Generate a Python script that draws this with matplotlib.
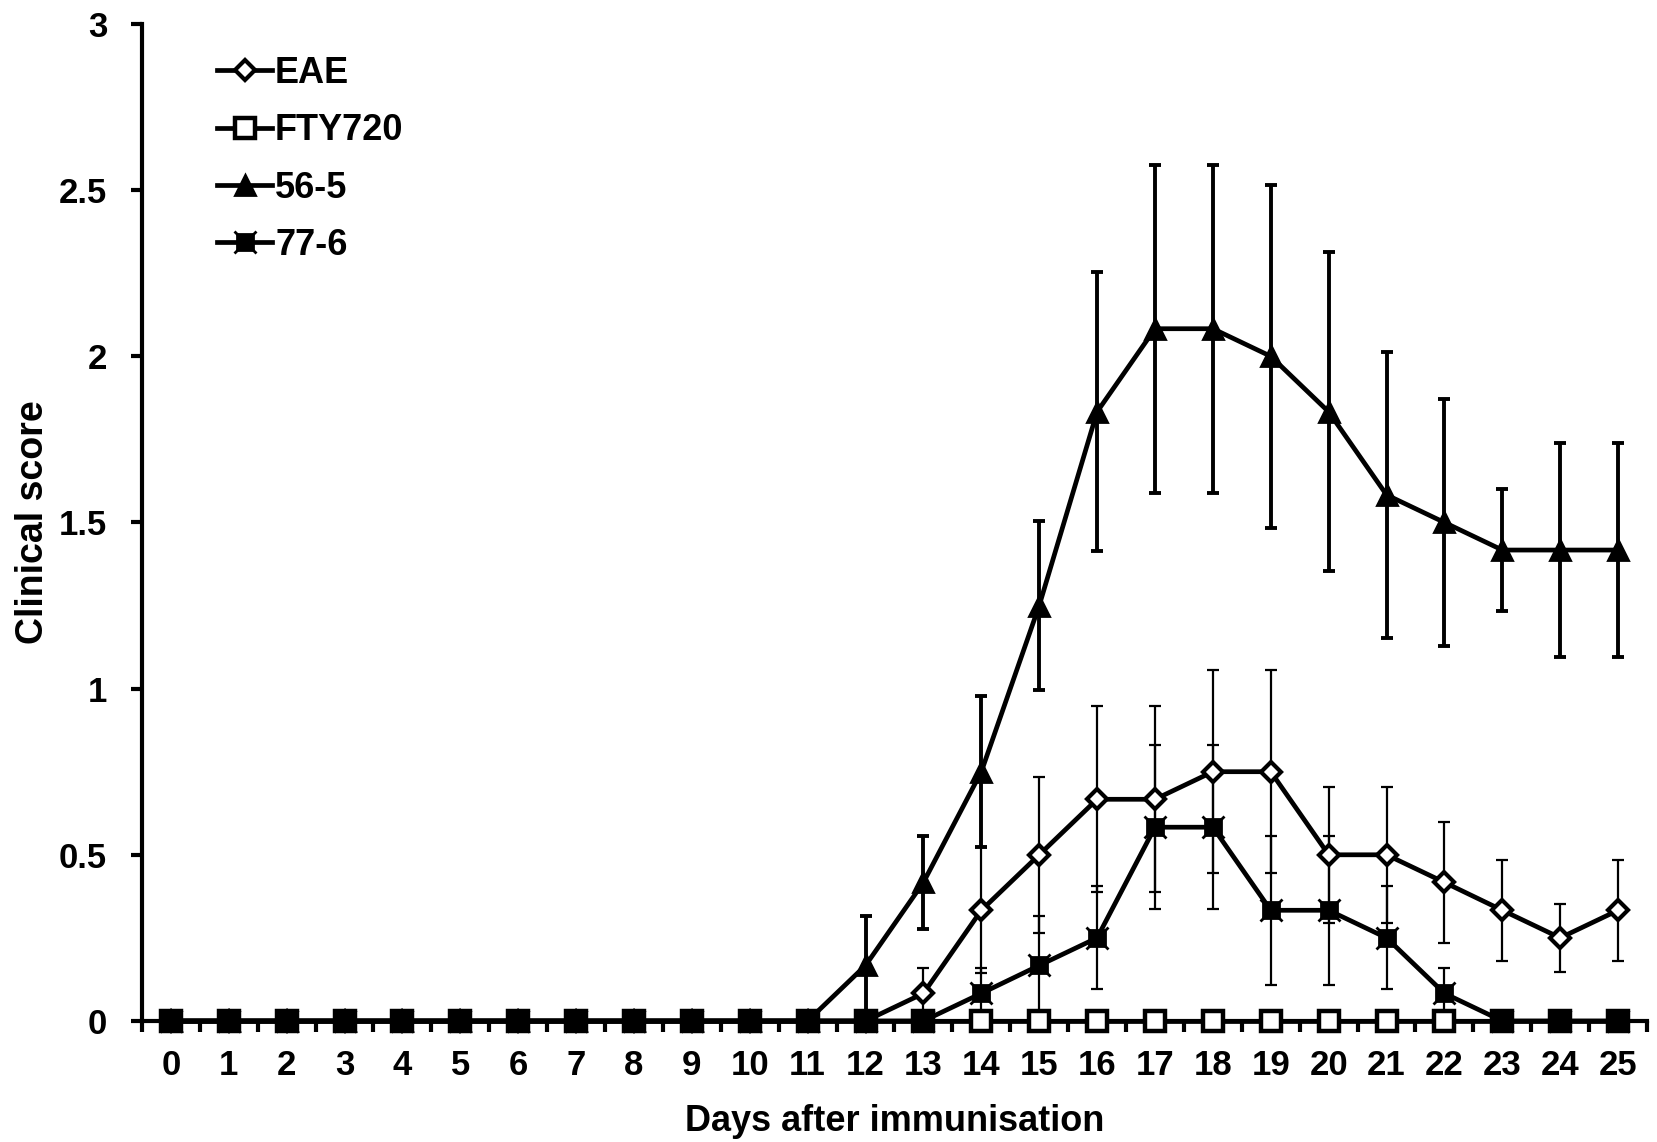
import matplotlib
matplotlib.use("Agg")
import matplotlib.pyplot as plt
from matplotlib.ticker import FixedLocator

plt.rcParams["font.family"] = ["Liberation Sans", "DejaVu Sans"]
plt.rcParams["font.weight"] = "bold"

DAYS = list(range(26))

# mean clinical score per day, and its error (SEM)
EAE = [0, 0, 0, 0, 0, 0, 0, 0, 0, 0, 0, 0, 0,
       0.083, 0.333, 0.5, 0.667, 0.667, 0.75, 0.75, 0.5, 0.5, 0.417, 0.333, 0.25, 0.333]
EAE_ERR = [0, 0, 0, 0, 0, 0, 0, 0, 0, 0, 0, 0, 0,
           0.075, 0.19, 0.235, 0.28, 0.28, 0.305, 0.305, 0.204, 0.204, 0.182, 0.152, 0.102, 0.152]

FTY720 = [0, 0, 0, 0, 0, 0, 0, 0, 0, 0, 0, 0, 0,
          0, 0, 0, 0, 0, 0, 0, 0, 0, 0, 0, 0, 0]

S56_5 = [0, 0, 0, 0, 0, 0, 0, 0, 0, 0, 0, 0,
         0.167, 0.417, 0.75, 1.25, 1.833, 2.083, 2.083, 2.0, 1.833, 1.583, 1.5, 1.417, 1.417, 1.417]
S56_5_ERR = [0, 0, 0, 0, 0, 0, 0, 0, 0, 0, 0, 0,
             0.15, 0.14, 0.228, 0.255, 0.42, 0.494, 0.494, 0.516, 0.48, 0.43, 0.372, 0.183, 0.322, 0.322]

S77_6 = [0, 0, 0, 0, 0, 0, 0, 0, 0, 0, 0, 0, 0, 0,
         0.083, 0.167, 0.25, 0.583, 0.583, 0.333, 0.333, 0.25, 0.083, 0, 0, 0]
S77_6_ERR = [0, 0, 0, 0, 0, 0, 0, 0, 0, 0, 0, 0, 0, 0,
             0.075, 0.15, 0.155, 0.247, 0.247, 0.225, 0.225, 0.155, 0.075, 0, 0, 0]

YTICKS = [0, 0.5, 1, 1.5, 2, 2.5, 3]
YTICK_LABELS = ["0", "0.5", "1", "1.5", "2", "2.5", "3"]


def err_bars(ax, y, err, lw):
    xs = [d for d, e in zip(DAYS, err) if e > 0]
    ys = [v for v, e in zip(y, err) if e > 0]
    es = [e for e in err if e > 0]
    ax.errorbar(xs, ys, yerr=es, fmt="none", ecolor="black", elinewidth=lw,
                capsize=4.5, capthick=lw, zorder=2, clip_on=False)


fig = plt.figure(figsize=(16.58, 11.42), dpi=100)
ax = fig.add_axes([0.0856, 0.106, 0.9078, 0.873])

err_bars(ax, EAE, EAE_ERR, 1.6)
err_bars(ax, S77_6, S77_6_ERR, 1.6)
err_bars(ax, S56_5, S56_5_ERR, 2.8)

lw = 3.4
l_eae, = ax.plot(DAYS, EAE, "-D", color="black", lw=lw, ms=10, mfc="white",
                 mec="black", mew=3, zorder=3, clip_on=False, label="EAE")
l_fty, = ax.plot(DAYS, FTY720, "-s", color="black", lw=lw, ms=14, mfc="white",
                 mec="black", mew=3.2, zorder=4, clip_on=False, label="FTY720")
l_56, = ax.plot(DAYS, S56_5, "-^", color="black", lw=lw, ms=14, mfc="black",
                mec="black", mew=2, zorder=5, clip_on=False, label="56-5")
l_77, = ax.plot(DAYS, S77_6, "-s", color="black", lw=lw, ms=12, mfc="black",
                mec="black", mew=2, zorder=6, clip_on=False, label="77-6")
l_77x, = ax.plot(DAYS, S77_6, "x", color="black", ms=16, mew=2, zorder=6,
                 clip_on=False)

ax.set_xlim(-0.5, 25.5)
ax.set_ylim(0, 3)

ax.spines["top"].set_visible(False)
ax.spines["right"].set_visible(False)
ax.spines["left"].set_linewidth(3)
ax.spines["bottom"].set_linewidth(3)

ax.set_xticks(DAYS)
ax.set_xticklabels([str(d) for d in DAYS])
ax.xaxis.set_minor_locator(FixedLocator([d - 0.5 for d in DAYS] + [25.5]))
ax.tick_params(axis="x", which="major", length=0, pad=20, labelsize=25)
ax.tick_params(axis="x", which="minor", length=8, width=3, direction="out")

ax.set_yticks(YTICKS)
ax.set_yticklabels(YTICK_LABELS)
ax.tick_params(axis="y", which="major", length=8, width=3, direction="out",
               pad=17, labelsize=25)

ax.set_xlabel("Days after immunisation", fontsize=26, fontweight="bold", labelpad=16)
ax.set_ylabel("Clinical score", fontsize=27, fontweight="bold", labelpad=6)

leg = ax.legend([l_eae, l_fty, l_56, (l_77, l_77x)], ["EAE", "FTY720", "56-5", "77-6"],
                loc="upper left", bbox_to_anchor=(0.0498, 0.968), frameon=False,
                numpoints=1, handlelength=1.53, handletextpad=0.08,
                labelspacing=0.62, borderpad=0, borderaxespad=0,
                prop={"size": 26, "weight": "bold"})

fig.savefig("out.png", dpi=100)
